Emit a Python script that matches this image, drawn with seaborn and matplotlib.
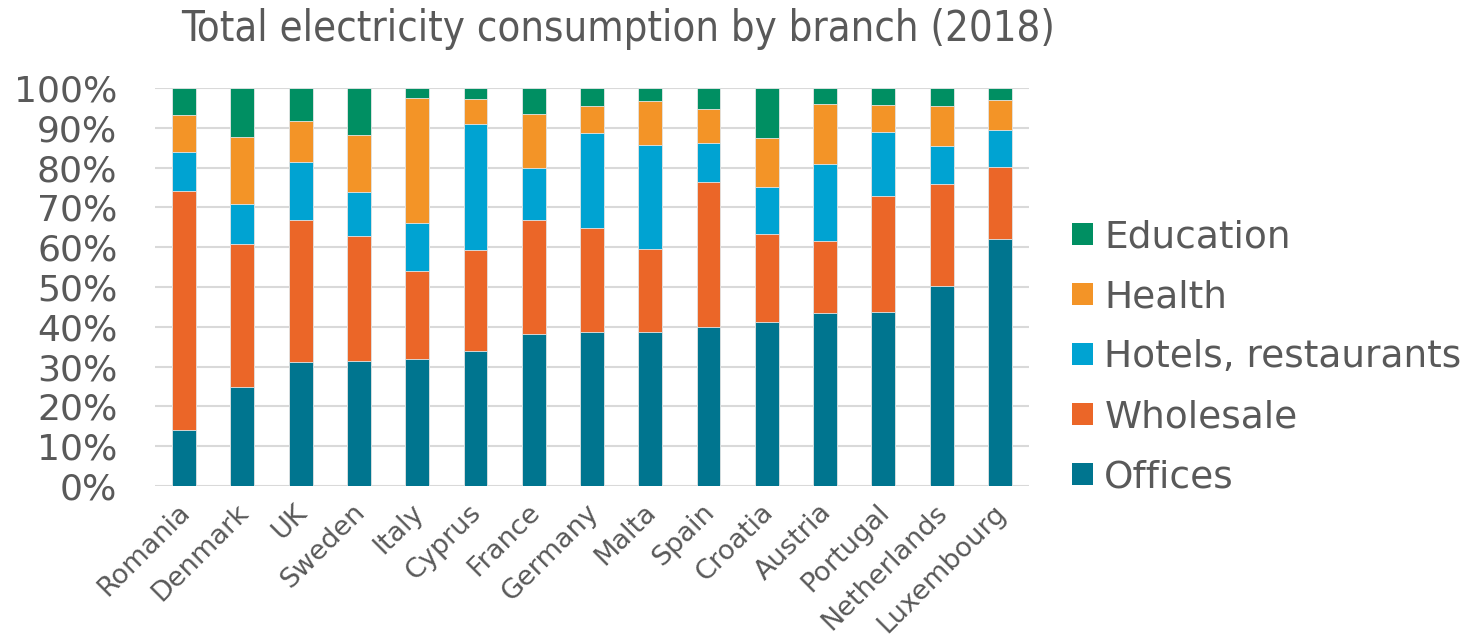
import numpy as np
import pandas as pd
import matplotlib
matplotlib.use("Agg")
import matplotlib.pyplot as plt
import matplotlib.transforms as mtransforms
import seaborn as sns
from matplotlib.patches import Patch

countries = ["Romania", "Denmark", "UK", "Sweden", "Italy", "Cyprus", "France",
             "Germany", "Malta", "Spain", "Croatia", "Austria", "Portugal",
             "Netherlands", "Luxembourg"]

# Share of total electricity consumption per branch (%)
offices   = [14.2, 24.8, 31.2, 31.5, 31.8, 33.8, 38.3, 38.6, 38.8, 40.0, 41.2, 43.4, 43.8, 50.3, 62.1]
wholesale = [60.0, 36.1, 35.6, 31.3, 22.3, 25.4, 28.5, 26.1, 20.7, 36.3, 22.0, 18.2, 29.1, 25.7, 18.1]
hotels    = [ 9.7,  9.9, 14.7, 11.1, 12.1, 31.7, 13.2, 23.9, 26.3, 10.0, 11.8, 19.4, 16.1,  9.5,  9.3]
health    = [ 9.4, 16.9, 10.3, 14.4, 31.2,  6.3, 13.5,  7.0, 11.0,  8.4, 12.4, 14.9,  6.7, 10.1,  7.4]
education = [ 6.7, 12.3,  8.2, 11.7,  2.6,  2.8,  6.5,  4.4,  3.2,  5.3, 12.6,  4.1,  4.3,  4.4,  3.1]

branches = ["Offices", "Wholesale", "Hotels, restaurants", "Health", "Education"]
colors = ["#00758F", "#EB6628", "#00A3D2", "#F39427", "#008F62"]

df = pd.DataFrame({"Offices": offices, "Wholesale": wholesale,
                   "Hotels, restaurants": hotels, "Health": health,
                   "Education": education}, index=countries)
shares = df.div(df.sum(axis=1), axis=0) * 100
cum = shares.cumsum(axis=1)

sns.set_theme(style="white")
plt.rcParams["font.family"] = ["DejaVu Sans"]
text_color = "#595959"

fig = plt.figure(figsize=(14.65, 6.39), dpi=100)
ax = fig.add_axes([0.1058, 0.2394, 0.5966, 0.6229])

# Stacked bars: draw cumulative totals from the top segment down
for name, col in reversed(list(zip(branches, colors))):
    sns.barplot(x=countries, y=cum[name].values, color=col, ax=ax,
                saturation=1, width=0.41, edgecolor="#e6e6e6",
                linewidth=0.6, zorder=3)

ax.set_ylim(0, 100)
ax.set_xlim(-0.5, len(countries) - 0.5)
ax.set_yticks(np.arange(0, 101, 10))
ax.set_yticklabels([f"{v}%" for v in range(0, 101, 10)])
ax.yaxis.grid(True, color="#D9D9D9", linewidth=1.5, zorder=0)
ax.xaxis.grid(False)
for s in ax.spines.values():
    s.set_visible(False)
ax.tick_params(axis="y", length=0, pad=27, labelsize=26, labelcolor=text_color)
ax.tick_params(axis="x", length=0, pad=6, labelsize=19.5, labelcolor=text_color)
ax.set_xticks(range(len(countries)))
ax.set_xticklabels(countries, rotation=45, ha="right", va="top",
                   rotation_mode="anchor")
shift = mtransforms.ScaledTranslation(-7 / 100, -5 / 100, fig.dpi_scale_trans)
for lbl in ax.get_xticklabels():
    lbl.set_transform(lbl.get_transform() + shift)
ax.set_xlabel("")
ax.set_ylabel("")

fig.text(0.422, 0.955, "Total electricity consumption by branch (2018)",
         ha="center", va="center", fontsize=30, color=text_color,
         family=["DejaVu Sans"], fontstretch="condensed")

handles = [Patch(facecolor=c, edgecolor="none", label=b)
           for b, c in reversed(list(zip(branches, colors)))]
leg = fig.legend(handles=handles, loc="center left",
                 bbox_to_anchor=(0.732, 0.441), frameon=False,
                 fontsize=27, labelcolor=text_color, handlelength=0.55,
                 handleheight=0.55, handletextpad=0.3, labelspacing=0.64,
                 borderaxespad=0, borderpad=0)

fig.savefig("out.png", dpi=100)
